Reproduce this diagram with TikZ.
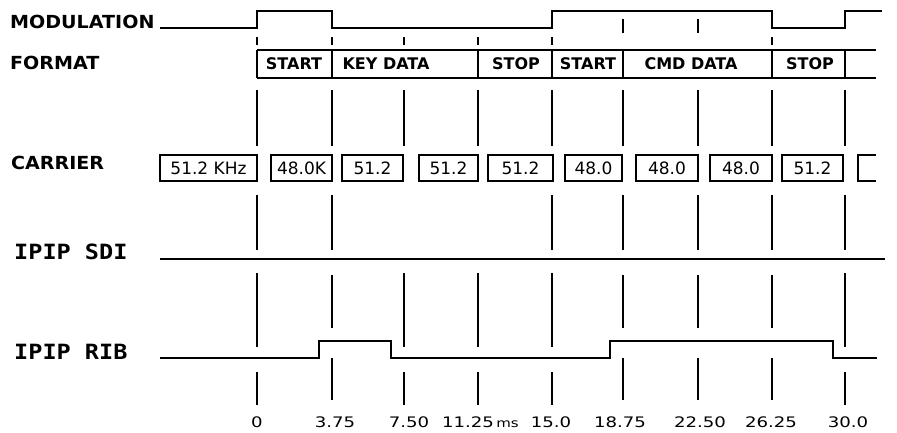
\documentclass[tikz,border=0pt]{standalone}
\usepackage{fontspec}
\setmainfont{DejaVu Sans}
\newfontfamily\lblfont[FakeStretch=1.06]{DejaVu Sans}
\newfontfamily\ipipfont[FakeStretch=1.12]{DejaVu Sans Mono}
\newfontfamily\tickfont[FakeStretch=1.25]{DejaVu Sans}
\usetikzlibrary{positioning}

\begin{document}
\begin{tikzpicture}[x=1pt,y=-1pt,
  sig/.style={line width=1.6pt},
  grid/.style={line width=1.1pt},
  rowlbl/.style={anchor=base west,inner sep=0pt,font=\fontsize{18}{20}\selectfont\lblfont\bfseries},
  ipiplbl/.style={anchor=base west,inner sep=0pt,font=\fontsize{21}{24}\selectfont\ipipfont\bfseries},
  fmt/.style={anchor=base,inner sep=0pt,font=\fontsize{16}{18}\selectfont\bfseries},
  cbox/.style={draw,line width=1.4pt,minimum height=26pt,inner sep=0pt,font=\fontsize{17}{19}\selectfont},
  tlbl/.style={anchor=base,inner sep=0pt,font=\fontsize{14.5}{16}\selectfont\tickfont}]
\useasboundingbox (0,0) rectangle (897,432);

% row names
\node[rowlbl] (modlbl) at (10,28) {MODULATION};
\node[rowlbl] (fmtlbl) at (10,69) {FORMAT};
\node[rowlbl] (carlbl) at (11,169) {CARRIER};
\node[ipiplbl] (sdilbl) at (14,259) {IPIP SDI};
\node[ipiplbl] (riblbl) at (14,359) {IPIP RIB};

% modulation
\draw[sig] (160,28) -- (257,28) -- (257,11) -- (332,11) -- (332,28) -- (552,28)
  -- (552,11) -- (772,11) -- (772,28) -- (845,28) -- (845,11) -- (882,11);

% format
\draw[sig] (257,50) -- (876,50) (257,78) -- (876,78);
\foreach \x in {257,332,478,552,623,772,845}
  \draw[grid] (\x,50) -- (\x,78);
\node[fmt] (fstart) at (294,69) {START};
\node[fmt] (fkey) at (386,69) {KEY DATA};
\node[fmt] (fstop) at (516,69) {STOP};
\node[fmt] (fstartb) at (588,69) {START};
\node[fmt] (fcmd) at (691,69) {CMD DATA};
\node[fmt] (fstopb) at (810,69) {STOP};

% carrier
\node[cbox,minimum width=97pt] (c1) at (208.5,168) {51.2 KHz};
\node[cbox,minimum width=61pt] (c2) at (301.5,168) {48.0K};
\node[cbox,minimum width=61pt] (c3) at (372.5,168) {51.2};
\node[cbox,minimum width=59pt] (c4) at (448.5,168) {51.2};
\node[cbox,minimum width=65pt] (c5) at (520.5,168) {51.2};
\node[cbox,minimum width=57pt] (c6) at (593.5,168) {48.0};
\node[cbox,minimum width=62pt] (c7) at (667,168) {48.0};
\node[cbox,minimum width=62pt] (c8) at (741,168) {48.0};
\node[cbox,minimum width=61pt] (c9) at (812.5,168) {51.2};
\draw[line width=1.4pt] (876,155) -- (858,155) -- (858,181) -- (876,181);

% ipip lines
\draw[sig] (160,259) -- (885,259);
\draw[sig] (160,358) -- (319,358) -- (319,341) -- (391,341) -- (391,358) -- (610,358)
  -- (610,341) -- (833,341) -- (833,358) -- (877,358);

% time marks
\foreach \x in {257,332,404,478,552,772}
  \draw[grid] (\x,37) -- (\x,45);
\foreach \x in {623,698}
  \draw[grid] (\x,19) -- (\x,33);
\foreach \x in {257,332,404,478,552,623,698,772,845}
  \draw[grid] (\x,90) -- (\x,146);
\foreach \x in {257,332,552,623,698,772,845}
  \draw[grid] (\x,195) -- (\x,250);
\foreach \x in {257,404,478,552,845} {
  \draw[grid] (\x,273) -- (\x,347);
  \draw[grid] (\x,372) -- (\x,405);
}
\foreach \x in {332,623,698,772} {
  \draw[grid] (\x,275) -- (\x,328);
  \draw[grid] (\x,358) -- (\x,400);
}

% time scale
\node[tlbl] (t0) at (257,427) {0};
\node[tlbl] (t1) at (335,427) {3.75};
\node[tlbl] (t2) at (409,427) {7.50};
\node[tlbl] (t3) at (468,427) {11.25};
\node[tlbl,right=2pt of t3.base east,anchor=base west,font=\fontsize{12}{14}\selectfont\tickfont] (tms) {ms};
\node[tlbl] (t4) at (551,427) {15.0};
\node[tlbl] (t5) at (620,427) {18.75};
\node[tlbl] (t6) at (700,427) {22.50};
\node[tlbl] (t7) at (771,427) {26.25};
\node[tlbl] (t8) at (848,427) {30.0};
\end{tikzpicture}
\end{document}
